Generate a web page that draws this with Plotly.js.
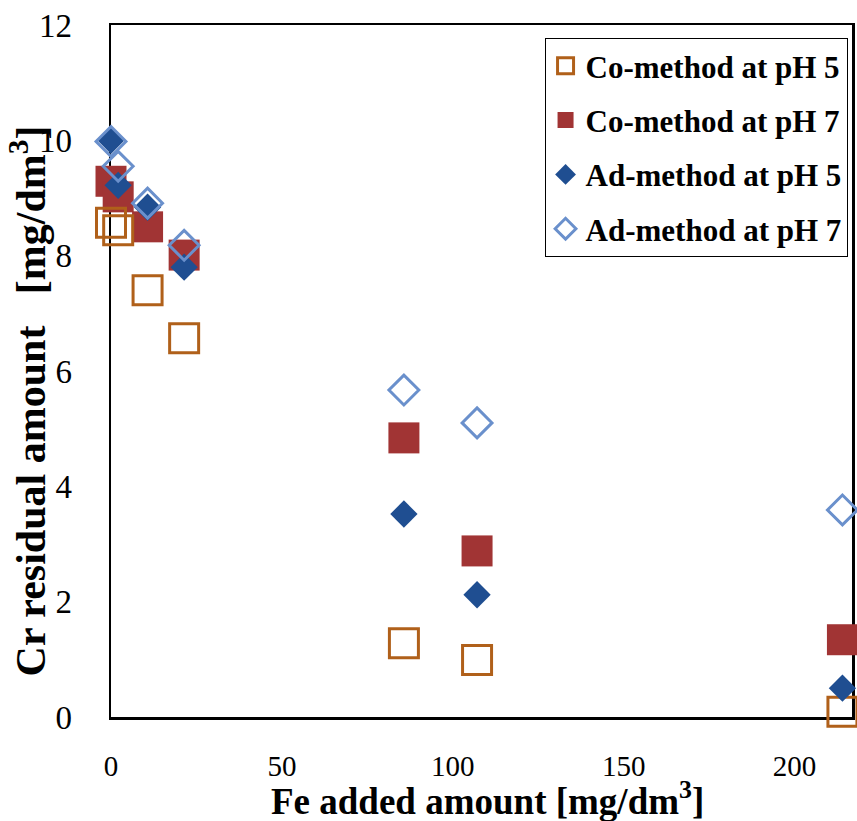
<!DOCTYPE html>
<html>
<head>
<meta charset="utf-8">
<script src="https://cdn.plot.ly/plotly-3.0.1.min.js"></script>
<style>html,body{margin:0;padding:0;background:#fff;}#chart{width:857px;height:821px;}</style>
</head>
<body>
<div id="chart"></div>
<script>
// Fe added amount [mg/dm3]
const feAdded = [0, 2.1, 10.7, 21.4, 85.7, 107.1, 214];
// Cr residual amount [mg/dm3]
const coPH5 = [8.57, 8.44, 7.40, 6.57, 1.28, 0.99, 0.09];
const coPH7 = [9.29, 9.02, 8.50, 8.01, 4.84, 2.88, 1.34];
const adPH5 = [10.0, 9.22, 8.84, 7.80, 3.52, 2.12, 0.50];
const adPH7 = [9.98, 9.55, 8.91, 8.18, 5.67, 5.10, 3.59];
const seriesNames = ['Co-method at pH 5', 'Co-method at pH 7', 'Ad-method at pH 5', 'Ad-method at pH 7'];
const xTicks = [0, 50, 100, 150, 200];
const yTicks = [0, 2, 4, 6, 8, 10, 12];
const xTitle = 'Fe added amount [mg/dm<sup>3</sup>]';
const yTitle = 'Cr residual amount \u00A0\u00A0[mg/dm<sup>3</sup>]';

const serif = 'Liberation Serif, Times New Roman, serif';

const traces = [
  {x: feAdded, y: coPH7, name: seriesNames[1], legendrank: 2, legendgroup: 'b',
   marker: {symbol: 'square', size: 31, color: '#A13434', line: {width: 0}}},
  {x: feAdded, y: coPH5, name: seriesNames[0], legendrank: 1, legendgroup: 'a',
   marker: {symbol: 'square-open', size: 29, color: '#B0601A', line: {width: 3, color: '#B0601A'}}},
  {x: feAdded, y: adPH5, name: seriesNames[2], legendrank: 3, legendgroup: 'c',
   marker: {symbol: 'diamond', size: 21, color: '#1F4E91', line: {width: 0}}},
  {x: feAdded, y: adPH7, name: seriesNames[3], legendrank: 4, legendgroup: 'd',
   marker: {symbol: 'diamond-open', size: 23, color: '#6A90CC', line: {width: 3, color: '#6A90CC'}}}
].map(t => Object.assign({type: 'scatter', mode: 'markers', cliponaxis: false}, t));

const layout = {
  width: 857, height: 821,
  margin: {l: 111, r: 5, t: 25, b: 104},
  paper_bgcolor: '#fff', plot_bgcolor: '#fff',
  showlegend: true,
  legend: {
    x: 0.994, xanchor: 'right', y: 0.981, yanchor: 'top',
    bgcolor: '#fff', bordercolor: '#000', borderwidth: 1,
    font: {family: serif, size: 31, color: '#000', weight: 'bold'},
    traceorder: 'grouped', tracegroupgap: 11, itemsizing: 'trace'
  },
  xaxis: {
    range: [0, 216.8], tickvals: xTicks, ticktext: xTicks.map(String),
    showgrid: false, zeroline: false, ticks: '',
    showline: true, mirror: true, linecolor: '#000', linewidth: 2.5,
    layer: 'below traces',
    tickfont: {family: serif, size: 29, color: '#000'},
    ticklabelstandoff: 22
  },
  yaxis: {
    range: [0, 12], tickvals: yTicks, ticktext: yTicks.map(String),
    showgrid: false, zeroline: false, ticks: '',
    showline: true, mirror: true, linecolor: '#000', linewidth: 2.5,
    layer: 'below traces',
    tickfont: {family: serif, size: 33, color: '#000'},
    ticklabelstandoff: 30
  },
  annotations: [
    {text: xTitle, showarrow: false,
     xref: 'paper', yref: 'paper', x: 0.508, y: -0.118, xanchor: 'center', yanchor: 'middle',
     font: {family: serif, size: 37, color: '#000', weight: 'bold'}},
    {text: yTitle, textangle: -90, showarrow: false,
     xref: 'paper', yref: 'paper', x: -0.112, y: 0.456, xanchor: 'center', yanchor: 'middle',
     font: {family: serif, size: 42, color: '#000', weight: 'bold'}}
  ]
};

Plotly.newPlot('chart', traces, layout, {displayModeBar: false, staticPlot: true});
</script>
</body>
</html>
